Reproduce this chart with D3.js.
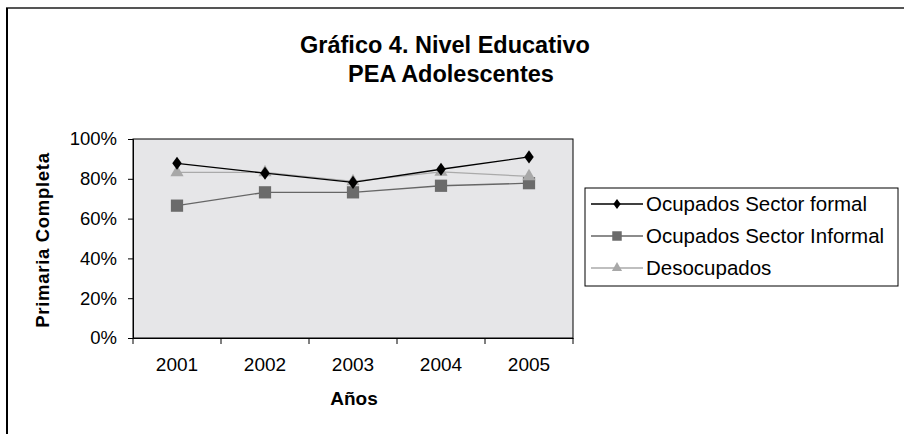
<!DOCTYPE html>
<html>
<head>
<meta charset="utf-8">
<script src="https://cdn.jsdelivr.net/npm/d3@7"></script>
<style>
  body { margin: 0; background: #fff; }
  text { font-family: Arial, "Liberation Sans", sans-serif; }
</style>
</head>
<body>
<div id="chart"></div>
<script>
// data
const years = ["2001", "2002", "2003", "2004", "2005"];
const formal = [0.878, 0.828, 0.782, 0.848, 0.910];
const informal = [0.665, 0.732, 0.732, 0.765, 0.778];
const desocupados = [0.832, 0.832, 0.787, 0.835, 0.812];
const yTicks = [0, 0.2, 0.4, 0.6, 0.8, 1];
const seriesNames = ["Ocupados Sector formal", "Ocupados Sector Informal", "Desocupados"];

const svgwidth = 904;
const svgheight = 434;

// plot area
var margin = {top: 139, left: 133};
var width = 440;
var height = 199;

var svg = d3.select("#chart")
  .append("svg")
  .attr("width", svgwidth)
  .attr("height", svgheight);

// outer frame (only top and left edges visible)
svg.append("line")
  .attr("x1", 6).attr("x2", svgwidth).attr("y1", 8).attr("y2", 8)
  .attr("stroke", "#555").attr("stroke-width", 2);
svg.append("line")
  .attr("x1", 7).attr("x2", 7).attr("y1", 8).attr("y2", svgheight)
  .attr("stroke", "#000").attr("stroke-width", 2);

// title
svg.append("text")
  .attr("x", 445).attr("y", 53)
  .attr("text-anchor", "middle")
  .attr("font-size", "23.5px").attr("font-weight", "bold")
  .text("Gráfico 4. Nivel Educativo");
svg.append("text")
  .attr("x", 451).attr("y", 82)
  .attr("text-anchor", "middle")
  .attr("font-size", "23.5px").attr("font-weight", "bold")
  .text("PEA Adolescentes");

var chart = svg.append("g")
  .attr("transform", `translate(${margin.left}, ${margin.top})`);

var x = d3.scaleBand()
  .domain(years)
  .range([0, width]);

var y = d3.scaleLinear()
  .domain([0, 1])
  .range([height, 0]);

// background
chart.append("rect")
  .attr("width", width).attr("height", height)
  .attr("fill", "#e6e6e8")
  .attr("stroke", "#000").attr("stroke-width", 1);

// y axis
var left = d3.axisLeft(y)
  .tickValues(yTicks)
  .tickFormat(d3.format(".0%"))
  .tickSize(5)
  .tickPadding(11);
var gy = chart.append("g").call(left);
gy.select(".domain").attr("stroke", "#000");
gy.selectAll("text").attr("font-size", "18.5px").attr("fill", "#000")
  .style("font-family", "Arial, 'Liberation Sans', sans-serif");

// x axis, ticks between categories
var bottom = d3.axisBottom(x).tickSize(0).tickPadding(20);
var gx = chart.append("g")
  .attr("transform", `translate(0, ${height})`)
  .call(bottom);
gx.select(".domain").attr("stroke", "#000");
gx.selectAll("text").attr("font-size", "19px").attr("fill", "#000")
  .style("font-family", "Arial, 'Liberation Sans', sans-serif");
gx.selectAll(".sep")
  .data(d3.range(years.length + 1))
  .enter()
  .append("line")
  .attr("x1", i => i * x.bandwidth())
  .attr("x2", i => i * x.bandwidth())
  .attr("y1", 0).attr("y2", 6)
  .attr("stroke", "#000");

// axis titles
svg.append("text")
  .attr("transform", "translate(49, 240) rotate(-90)")
  .attr("text-anchor", "middle")
  .attr("font-size", "18.5px").attr("font-weight", "bold")
  .attr("letter-spacing", "0.7px")
  .text("Primaria Completa");
svg.append("text")
  .attr("x", 354).attr("y", 405)
  .attr("text-anchor", "middle")
  .attr("font-size", "19px").attr("font-weight", "bold")
  .text("Años");

var cx = d => x(d) + x.bandwidth() / 2;

var series = [
  {name: seriesNames[0], values: formal, color: "#000", mark: d3.symbolDiamond, size: 50, fill: "#000"},
  {name: seriesNames[1], values: informal, color: "#666", mark: d3.symbolSquare, size: 150, fill: "#6b6b6b"},
  {name: seriesNames[2], values: desocupados, color: "#aaa", mark: d3.symbolTriangle, size: 75, fill: "#a8a8a8"}
];

var line = d3.line()
  .x((d, i) => cx(years[i]))
  .y(d => y(d));

// draw informal first, then desocupados, then formal on top
[1, 2, 0].forEach(function(k) {
  var s = series[k];
  chart.append("path")
    .datum(s.values)
    .attr("d", line)
    .attr("fill", "none")
    .attr("stroke", s.color)
    .attr("stroke-width", 1.3);
  chart.selectAll(".m" + k)
    .data(s.values)
    .enter()
    .append("path")
    .attr("d", d3.symbol().type(s.mark).size(s.size))
    .attr("transform", (d, i) => `translate(${cx(years[i])}, ${y(d)})` + (k == 0 ? " scale(1.25,1)" : ""))
    .attr("fill", s.fill);
});

// legend
var legend = svg.append("g").attr("transform", "translate(585, 188)");
legend.append("rect")
  .attr("width", 313).attr("height", 98)
  .attr("fill", "#fff").attr("stroke", "#000").attr("stroke-width", 1);
series.forEach(function(s, i) {
  var ly = 16 + i * 32;
  legend.append("line")
    .attr("x1", 6).attr("x2", 58).attr("y1", ly).attr("y2", ly)
    .attr("stroke", s.color).attr("stroke-width", 1.3);
  legend.append("path")
    .attr("d", d3.symbol().type(s.mark).size(s.size * 0.6))
    .attr("transform", `translate(32, ${ly})` + (i == 0 ? " scale(1.25,1)" : ""))
    .attr("fill", s.fill);
  legend.append("text")
    .attr("x", 61).attr("y", ly + 7)
    .attr("font-size", "20.5px")
    .text(s.name);
});
</script>
</body>
</html>
